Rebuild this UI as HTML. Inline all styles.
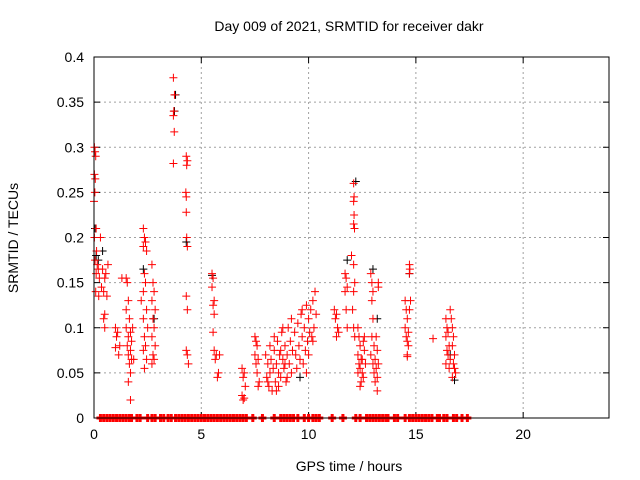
<!DOCTYPE html>
<html><head><meta charset="utf-8"><style>
body{margin:0;background:#fff;}
svg{display:block;font-family:"Liberation Sans",sans-serif;}
</style></head><body>
<svg id="chart" width="640" height="480">
<text x="349" y="31" font-size="14" text-anchor="middle">Day 009 of 2021, SRMTID for receiver dakr</text>
<text x="349" y="471" font-size="14" text-anchor="middle">GPS time / hours</text>
<text transform="translate(18,238) rotate(-90)" font-size="14" text-anchor="middle">SRMTID / TECUs</text>
<g id="grid"></g>
<g id="ticks"></g>
<g id="marks"></g>
<rect x="94" y="57" width="515" height="361" fill="none" stroke="#000" stroke-width="1"/>
</svg>
<script>
const xTicks=[0,5,10,15,20];
const yTicks=[0,0.05,0.1,0.15,0.2,0.25,0.3,0.35,0.4];
const yTickLabels=["0","0.05","0.1","0.15","0.2","0.25","0.3","0.35","0.4"];
const blackPoints=[[0.05,0.21],[0.1,0.18],[0.2,0.175],[0.4,0.185],[2.3,0.165],[2.8,0.11],[3.75,0.34],[3.8,0.358],[4.3,0.195],[5.5,0.158],[12.2,0.262],[13.0,0.165],[13.2,0.11],[14.7,0.16],[16.8,0.042],[16.6,0.07],[9.6,0.045],[11.8,0.175]];
const redPoints=[
[0.02,0.3],[0.05,0.295],[0.08,0.29],[0.02,0.27],[0.06,0.265],[0.04,0.25],[0.0,0.24],[0.1,0.21],[0.02,0.2],[0.12,0.185],[0.05,0.175],[0.15,0.17],[0.2,0.165],[0.1,0.16],[0.25,0.155],[0.08,0.14],[0.22,0.135],
[0.3,0.2],[0.4,0.165],[0.5,0.155],[0.35,0.145],[0.45,0.14],[0.6,0.135],[0.5,0.115],[0.45,0.11],[0.5,0.1],[0.65,0.17],[0.55,0.16],
[1.0,0.1],[1.1,0.095],[1.05,0.09],[1.2,0.08],[1.0,0.078],[1.15,0.07],[1.3,0.155],
[1.5,0.155],[1.55,0.15],[1.6,0.13],[1.5,0.12],[1.65,0.11],[1.5,0.1],[1.7,0.095],[1.6,0.09],[1.75,0.085],[1.55,0.08],[1.7,0.075],[1.6,0.07],[1.75,0.065],[1.65,0.06],[1.7,0.05],[1.6,0.04],[1.7,0.02],[1.8,0.1],[1.85,0.065],
[2.3,0.21],[2.35,0.2],[2.4,0.195],[2.3,0.19],[2.45,0.185],[2.35,0.16],[2.4,0.15],[2.3,0.14],[2.45,0.12],[2.3,0.11],[2.5,0.1],[2.35,0.09],[2.4,0.08],[2.3,0.075],[2.45,0.065],[2.35,0.055],[2.2,0.13],
[2.7,0.17],[2.75,0.15],[2.8,0.14],[2.7,0.13],[2.85,0.12],[2.75,0.11],[2.8,0.1],[2.7,0.09],[2.85,0.08],[2.75,0.07],[2.8,0.065],[2.7,0.06],
[3.7,0.377],[3.75,0.358],[3.72,0.34],[3.7,0.335],[3.74,0.317],[3.7,0.282],
[4.3,0.29],[4.35,0.285],[4.32,0.28],[4.28,0.25],[4.3,0.245],[4.3,0.228],[4.32,0.2],[4.35,0.19],[4.3,0.135],[4.35,0.12],[4.3,0.075],[4.35,0.07],[4.4,0.06],
[5.5,0.16],[5.55,0.155],[5.5,0.145],[5.6,0.13],[5.55,0.125],[5.6,0.115],[5.55,0.095],[5.6,0.075],[5.7,0.07],[5.65,0.065],[5.8,0.05],[5.75,0.045],[5.85,0.07],
[6.9,0.055],[7.0,0.05],[6.95,0.045],[7.05,0.035],[6.9,0.025],[7.0,0.022],[6.95,0.02],
[7.5,0.09],[7.55,0.085],[7.6,0.08],[7.5,0.07],[7.65,0.065],[7.55,0.06],[7.6,0.05],[7.7,0.04],[7.65,0.035],
[8.0,0.07],[8.1,0.06],[8.2,0.05],[8.05,0.045],[8.15,0.035],[8.3,0.03],[8.25,0.065],[8.35,0.055],[8.4,0.075],[8.45,0.04],[8.5,0.06],[8.55,0.085],[8.6,0.05],[8.65,0.07],[8.7,0.045],[8.75,0.095],[8.8,0.065],[8.85,0.055],[8.9,0.08],[8.95,0.04],[9.0,0.07],[9.05,0.1],[9.1,0.06],[9.15,0.085],[9.2,0.05],[9.25,0.075],[8.2,0.08],[8.4,0.09],[8.6,0.035],[8.8,0.1],[9.0,0.045],[9.2,0.11],[8.1,0.04],[8.5,0.03],[8.7,0.075],[8.9,0.06],
[9.35,0.095],[9.4,0.07],[9.45,0.055],[9.5,0.105],[9.55,0.08],[9.6,0.065],[9.65,0.115],[9.7,0.09],[9.75,0.06],[9.8,0.1],[9.85,0.075],[9.9,0.05],[9.95,0.085],[10.0,0.11],[10.05,0.095],[10.1,0.12],[10.15,0.09],[10.2,0.13],[10.25,0.1],[10.3,0.14],[10.35,0.115],[10.0,0.07],[9.9,0.125],[10.2,0.085],[9.7,0.12],
[11.2,0.12],[11.25,0.11],[11.3,0.115],[11.35,0.1],[11.3,0.09],[11.4,0.095],
[11.7,0.16],[11.75,0.155],[11.8,0.145],[11.7,0.14],[11.75,0.12],[11.8,0.1],
[12.1,0.26],[12.12,0.245],[12.1,0.24],[12.12,0.225],[12.1,0.215],[12.14,0.21],[12.0,0.18],[12.1,0.17],[12.15,0.15],[12.1,0.14],[12.05,0.12],[12.1,0.1],[12.15,0.09],
[12.3,0.1],[12.35,0.09],[12.4,0.08],[12.3,0.07],[12.45,0.065],[12.35,0.06],[12.4,0.055],[12.5,0.05],[12.45,0.04],[12.4,0.035],[12.55,0.085],[12.6,0.075],[12.5,0.065],[12.65,0.06],[12.55,0.045],[12.3,0.05],[12.6,0.09],
[12.9,0.16],[12.95,0.15],[13.0,0.14],[12.95,0.13],[13.0,0.11],[12.95,0.09],[13.05,0.08],[12.9,0.07],[13.1,0.065],[13.0,0.06],[13.15,0.055],[13.05,0.05],[13.2,0.045],[13.1,0.04],[13.2,0.03],[13.25,0.15],[13.25,0.145],[13.2,0.075],[13.15,0.09],[13.25,0.06],
[14.5,0.13],[14.55,0.12],[14.6,0.11],[14.5,0.1],[14.65,0.095],[14.55,0.09],[14.6,0.085],[14.65,0.08],[14.6,0.07],[14.7,0.17],[14.72,0.165],[14.7,0.16],[14.75,0.13],[14.7,0.12],[14.6,0.068],
[15.8,0.088],
[16.4,0.11],[16.45,0.1],[16.5,0.095],[16.4,0.09],[16.55,0.08],[16.45,0.075],[16.5,0.07],[16.6,0.065],[16.4,0.06],[16.55,0.055],[16.6,0.12],[16.65,0.11],[16.7,0.1],[16.75,0.09],[16.7,0.08],[16.8,0.07],[16.75,0.06],[16.8,0.055],[16.85,0.05],[16.7,0.045]
];
const zeroHours=[0.3,0.45,0.6,0.75,0.9,1.05,1.2,1.35,1.5,1.65,1.75,2.0,2.15,2.5,2.7,2.85,3.1,3.25,3.45,3.6,3.8,3.95,4.1,4.25,4.4,4.55,4.7,4.85,5.0,5.15,5.3,5.45,5.6,5.75,5.9,6.05,6.2,6.35,6.5,6.65,6.8,6.95,7.1,7.4,7.85,8.4,8.7,8.85,9.0,9.15,9.3,9.5,9.8,10.0,10.2,10.35,10.5,11.1,11.6,12.2,12.4,12.7,12.85,13.0,13.15,13.3,13.45,13.6,13.7,14.0,14.15,14.5,14.7,14.85,15.0,15.15,15.3,15.45,15.6,15.75,16.0,16.1,16.3,16.45,16.75,16.9,17.15,17.4];
const X=h=>94+h*(515/24), Y=v=>418-v*(361/0.4);
const NS='http://www.w3.org/2000/svg';
const grid=document.getElementById('grid'),ticks=document.getElementById('ticks'),marks=document.getElementById('marks');
function mk(tag,attrs,parent){const e=document.createElementNS(NS,tag);for(const k in attrs)e.setAttribute(k,attrs[k]);parent.appendChild(e);return e;}
xTicks.forEach(t=>{const x=X(t);
 if(t>0){const g=mk('line',{x1:x,y1:57,x2:x,y2:418,stroke:'#a0a0a0','stroke-dasharray':'2,3'},grid);}
 mk('line',{x1:x,y1:418,x2:x,y2:412,stroke:'#000'},ticks);mk('line',{x1:x,y1:57,x2:x,y2:63,stroke:'#000'},ticks);
 const l=mk('text',{x:x,y:439,'font-size':14,'text-anchor':'middle'},ticks);l.textContent=t;
 
 });
yTicks.forEach((t,i)=>{const y=Y(t);
 if(t>0&&t<0.4){const g=mk('line',{x1:94,y1:y,x2:609,y2:y,stroke:'#a0a0a0','stroke-dasharray':'2,3'},grid);}
 mk('line',{x1:94,y1:y,x2:100,y2:y,stroke:'#000'},ticks);mk('line',{x1:609,y1:y,x2:603,y2:y,stroke:'#000'},ticks);
 const l=mk('text',{x:84,y:y+5,'font-size':14,'text-anchor':'end'},ticks);l.textContent=yTickLabels[i];
 
 });
function plus(h,v,c){const x=X(h),y=Y(v);const p=mk('path',{d:`M${x-4},${y}H${x+4}M${x},${y-4}V${y+4}`,stroke:c,'stroke-width':1,fill:'none'},marks);return p;}
blackPoints.forEach(d=>{const p=plus(d[0],d[1],'#000');
 
 });
redPoints.forEach(d=>{const p=plus(d[0],d[1],'#ff0000');
 
 });
zeroHours.forEach(h=>{const p=plus(h,0,'#ff0000');p.setAttribute('stroke-width',3);
 
 });
</script>
</body></html>
